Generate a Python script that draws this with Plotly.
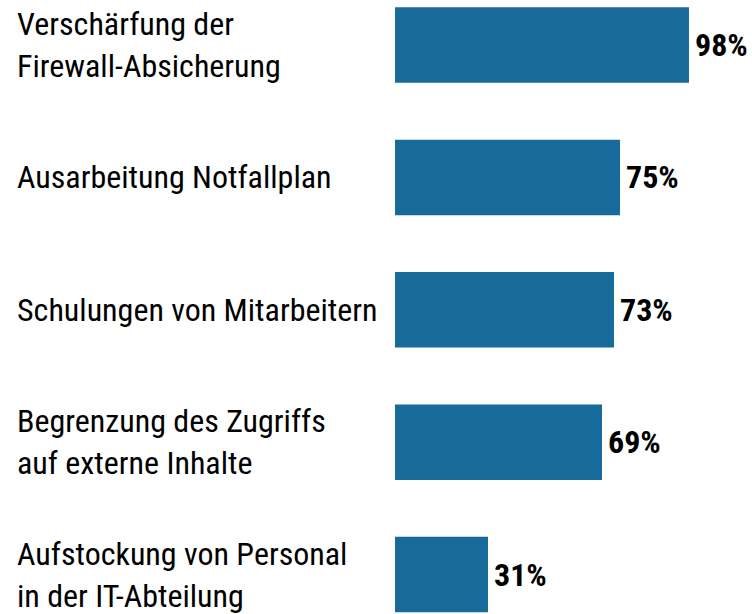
import plotly.graph_objects as go

categories = [
    "Verschärfung der<br>Firewall-Absicherung",
    "Ausarbeitung Notfallplan",
    "Schulungen von Mitarbeitern",
    "Begrenzung des Zugriffs<br>auf externe Inhalte",
    "Aufstockung von Personal<br>in der IT-Abteilung",
]
values = [98, 75, 73, 69, 31]
value_labels = ["98%", "75%", "73%", "69%", "31%"]

FONT = "Roboto Condensed, Arial Narrow, sans-serif"
BAR_COLOR = "#176b9b"

ypos = list(range(len(categories)))

fig = go.Figure(
    go.Bar(
        x=values,
        y=ypos,
        orientation="h",
        marker=dict(color=BAR_COLOR, line=dict(width=0)),
        width=0.57,
        hoverinfo="skip",
    )
)

annotations = []
for i, (cat, v, lab) in enumerate(zip(categories, values, value_labels)):
    annotations.append(dict(
        x=0, xref="paper", y=i, yref="y",
        text=cat, showarrow=False, xanchor="left", yanchor="middle",
        align="left", xshift=-380,
        font=dict(family=FONT, size=32, color="#000000"),
    ))
    annotations.append(dict(
        x=v, xref="x", y=i, yref="y",
        text=lab, showarrow=False, xanchor="left", yanchor="middle",
        xshift=4,
        font=dict(family=FONT, size=32, color="#000000", weight="bold"),
    ))

fig.update_layout(
    width=752, height=614,
    margin=dict(l=395, r=0, t=0, b=0),
    paper_bgcolor="white", plot_bgcolor="white",
    showlegend=False,
    xaxis=dict(range=[0, 119], visible=False, fixedrange=True),
    yaxis=dict(range=[4.298, -0.34], visible=False, fixedrange=True),
    annotations=annotations,
)

fig.write_html("out.html", config={"displayModeBar": False},
               post_script="document.body.style.margin='0';")
